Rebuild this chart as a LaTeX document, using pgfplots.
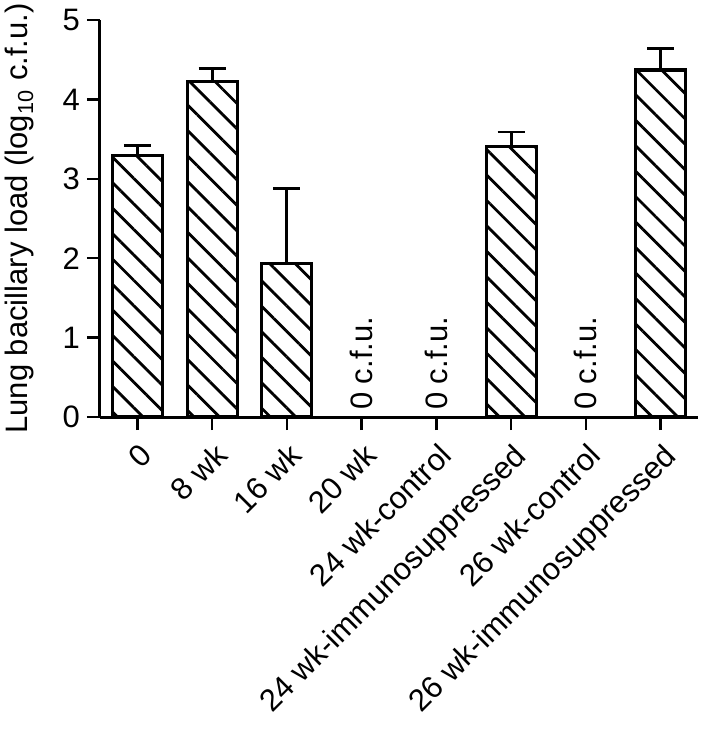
\documentclass[border=0pt]{standalone}
\usepackage{fontspec}
\setmainfont{Liberation Sans}
\usepackage{pgfplots}
\usepackage{pgfplotstable}
\pgfplotsset{compat=1.18}
\usetikzlibrary{patterns.meta}

% log10 c.f.u. per group (zero groups are written as text)
\pgfplotstableread{
x y e
0 3.29 0.13
1 4.23 0.16
2 1.93 0.95
5 3.41 0.18
7 4.37 0.27
}\loadtable

\newcommand{\lbl}{\fontsize{15.5}{18}\selectfont}

\begin{document}
\begin{tikzpicture}
\begin{axis}[
  scale only axis, width=299pt, height=198.5pt,
  xmin=-0.5, xmax=7.5, ymin=0, ymax=5,
  axis x line*=bottom, axis y line*=left,
  axis line style={line width=1.5pt},
  ytick={0,...,5},
  xtick={0,...,7},
  xticklabels={0, 8 wk, 16 wk, 20 wk, 24 wk-control, 24 wk-immunosuppressed, 26 wk-control, 26 wk-immunosuppressed},
  tick align=outside, major tick length=6.5pt,
  tick style={line width=1.2pt, black},
  tick label style={font=\lbl},
  /pgf/number format/assume math mode=true,
  xticklabel style={yshift=-1pt, xshift=0.5pt, rotate=45, anchor=north east},
  ylabel={Lung bacillary load (log\textsubscript{10} c.f.u.)},
  ylabel style={font=\lbl, at={(axis description cs:-0.1204,0.5)}, anchor=base},
  clip=false,
]
\addplot[ybar, bar width=25pt, draw=black, line width=1.6pt,
  pattern={Lines[angle=-45, distance=9pt, line width=1.4pt]},
  error bars/.cd, y dir=plus, y explicit,
  error bar style={line width=1.4pt, black},
  error mark options={rotate=90, mark size=6.75pt, line width=1.4pt, black}]
  table[x=x, y=y, y error=e] {\loadtable};
\node[rotate=90, anchor=west, font=\lbl] at (axis cs:3,0) {0 c.f.u.};
\node[rotate=90, anchor=west, font=\lbl] at (axis cs:4,0) {0 c.f.u.};
\node[rotate=90, anchor=west, font=\lbl] at (axis cs:6,0) {0 c.f.u.};
\coordinate (O) at (axis cs:-0.5,0);
\end{axis}
\pgfresetboundingbox
\path[use as bounding box] (O) ++(-50pt,-157.5pt) rectangle ++(350pt,366pt);
\end{tikzpicture}
\end{document}
